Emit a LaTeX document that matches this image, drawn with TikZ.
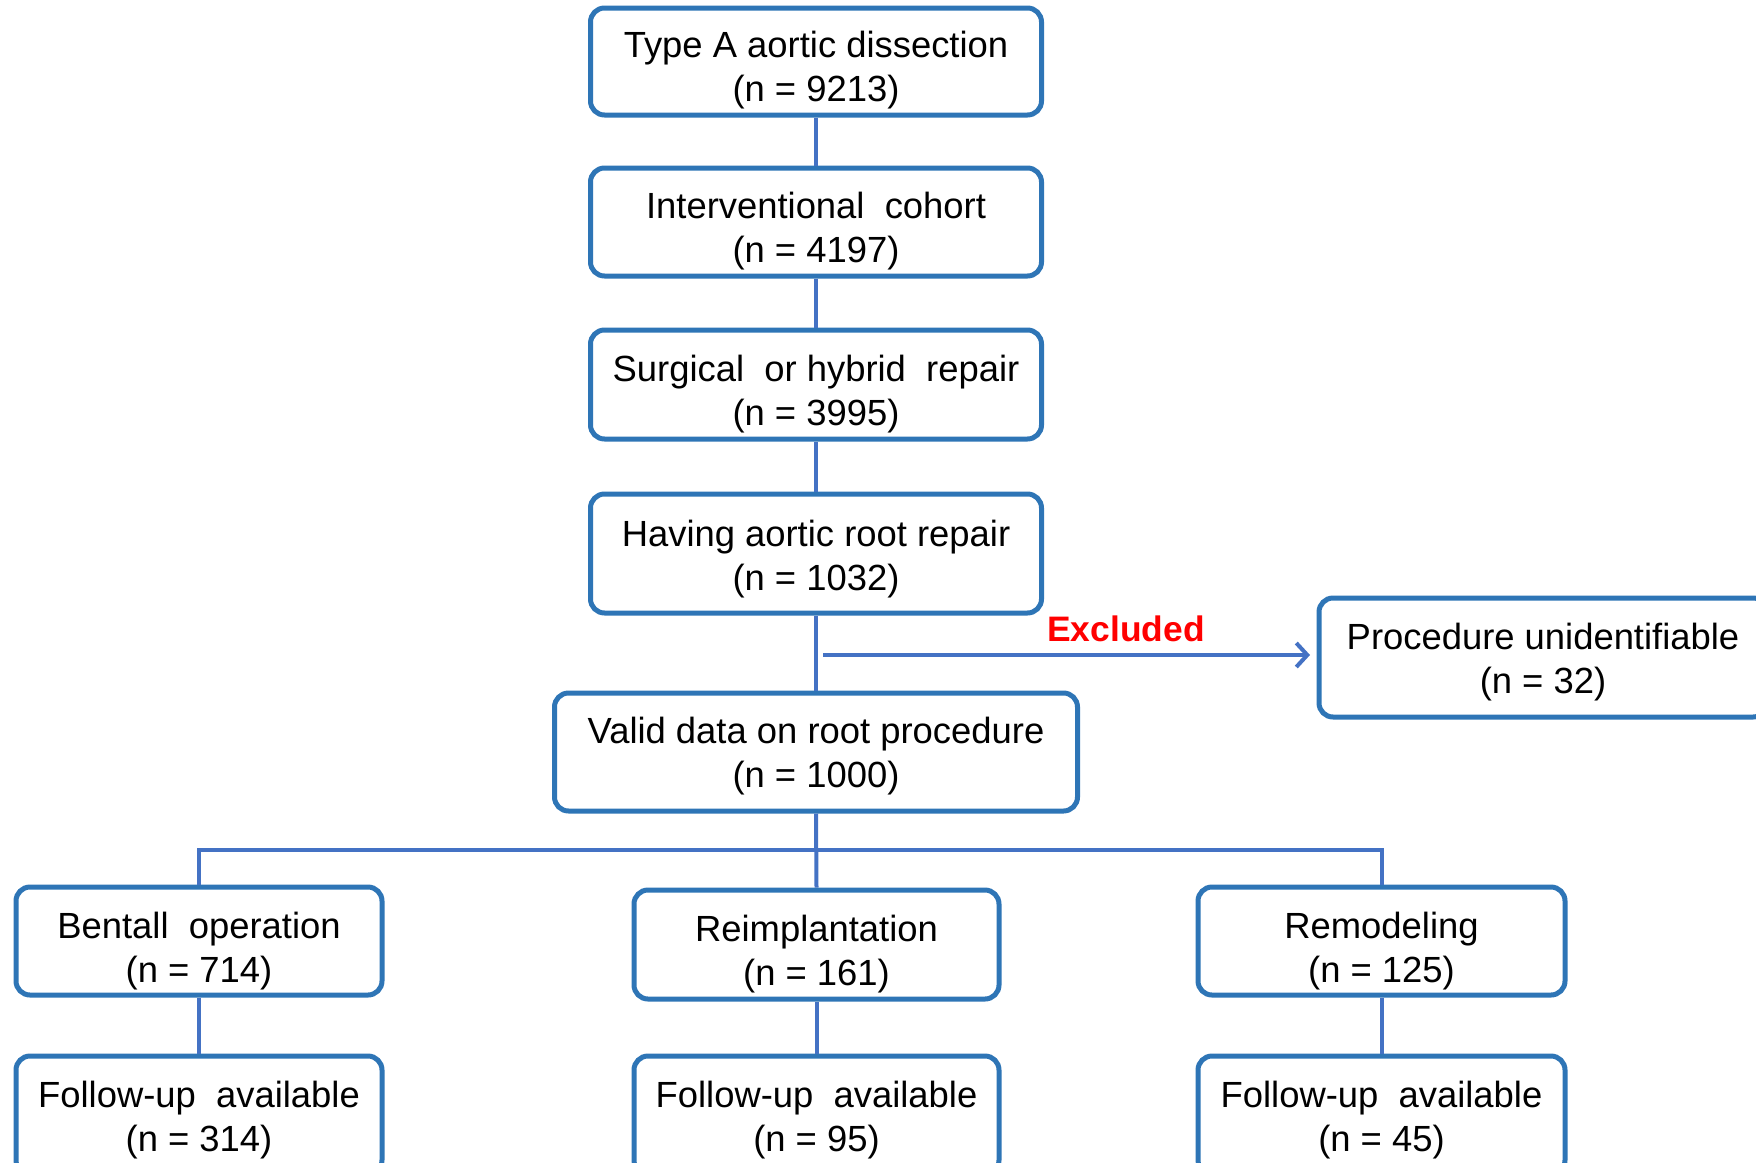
\documentclass[tikz,border=0pt]{standalone}
\usepackage{fontspec}
\setmainfont{Liberation Sans}
\usetikzlibrary{arrows.meta}
\definecolor{boxblue}{HTML}{2E75B6}
\definecolor{lineblue}{HTML}{4472C4}
\definecolor{exred}{HTML}{FF0000}
\tikzset{
  flowbox/.style={draw=boxblue, line width=2.5pt, rounded corners=7pt, fill=white, inner sep=0pt},
  boxtext/.style={align=center, inner sep=0pt, font=\fontsize{18.2pt}{22pt}\selectfont, text=black},
  conn/.style={draw=lineblue, line width=2pt},
  exlabel/.style={text=exred, font=\fontsize{17.7pt}{20pt}\selectfont\bfseries}
}
\begin{document}
\begin{tikzpicture}[x=0.5pt,y=-0.5pt]
\useasboundingbox (0,0) rectangle (1756,1162);
\clip (0,0) rectangle (1756,1162);
\node[flowbox, minimum width=225.5pt, minimum height=53.5pt] (n1) at (816,61.5) {};
\node[flowbox, minimum width=225.5pt, minimum height=54pt] (n2) at (816,222) {};
\node[flowbox, minimum width=225.5pt, minimum height=54.5pt] (n3) at (816,384.5) {};
\node[flowbox, minimum width=225.5pt, minimum height=59.5pt] (n4) at (816,553.5) {};
\node[flowbox, minimum width=261.5pt, minimum height=59pt] (n5) at (816,752) {};
\node[flowbox, minimum width=224pt, minimum height=59.5pt] (ex) at (1543,657.5) {};
\node[flowbox, minimum width=183pt, minimum height=54pt] (b1) at (199,941) {};
\node[flowbox, minimum width=182.5pt, minimum height=54.5pt] (b2) at (816.5,944.5) {};
\node[flowbox, minimum width=183.5pt, minimum height=54pt] (b3) at (1381.5,941) {};
\node[flowbox, minimum width=183pt, minimum height=59pt] (f1) at (199,1115) {};
\node[flowbox, minimum width=182.5pt, minimum height=59pt] (f2) at (816.5,1115) {};
\node[flowbox, minimum width=183.5pt, minimum height=59pt] (f3) at (1381.5,1115) {};
\node[boxtext] (n1t) at ([yshift=-4.5pt]n1.center) {Type A aortic dissection\\(n = 9213)};
\node[boxtext] (n2t) at ([yshift=-4.5pt]n2.center) {Interventional\ \ cohort\\(n = 4197)};
\node[boxtext] (n3t) at ([yshift=-5pt]n3.center) {Surgical\ \ or hybrid\ \ repair\\(n = 3995)};
\node[boxtext] (n4t) at ([yshift=-3pt]n4.center) {Having aortic root repair\\(n = 1032)};
\node[boxtext] (n5t) at ([yshift=-2pt]n5.center) {Valid data on root procedure\\(n = 1000)};
\node[boxtext] (ext) at ([yshift=-2.5pt]ex.center) {Procedure\ unidentifiable\\(n = 32)};
\node[boxtext] (b1t) at ([yshift=-5pt]b1.center) {Bentall\ \ operation\\(n = 714)};
\node[boxtext] (b2t) at ([yshift=-5pt]b2.center) {Reimplantation\\(n = 161)};
\node[boxtext] (b3t) at ([yshift=-5pt]b3.center) {Remodeling\\(n = 125)};
\node[boxtext] (f1t) at ([yshift=-2.7pt]f1.center) {Follow-up\ \ available\\(n = 314)};
\node[boxtext] (f2t) at ([yshift=-2.7pt]f2.center) {Follow-up\ \ available\\(n = 95)};
\node[boxtext] (f3t) at ([yshift=-2.7pt]f3.center) {Follow-up\ \ available\\(n = 45)};
\coordinate (exstart) at (823,655);
\coordinate (exend) at (1310,655);
\coordinate (hb) at (816,850);
\node[exlabel] (exl) at (1126,629) {Excluded};
\draw[conn] (n1.south) -- (n2.north);
\draw[conn] (n2.south) -- (n3.north);
\draw[conn] (n3.south) -- (n4.north);
\draw[conn] (n4.south) -- (n5.north);
\draw[conn, -{Straight Barb[length=5.5pt,width=12pt,line width=2pt]}] (exstart) -- (exend);
\draw[conn] (n5.south) -- (b2.north);
\draw[conn] (b1.north) |- (hb) -| (b3.north);
\draw[conn] (b1.south) -- (f1.north);
\draw[conn] (b2.south) -- (f2.north);
\draw[conn] (b3.south) -- (f3.north);
\end{tikzpicture}
\end{document}
